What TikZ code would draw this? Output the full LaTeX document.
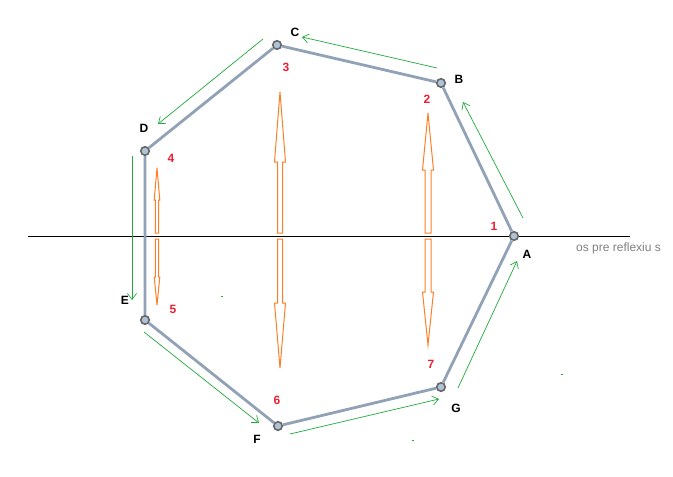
\documentclass[tikz,border=0pt]{standalone}
\usepackage{fontspec}
\setmainfont{Liberation Sans}
\usetikzlibrary{arrows.meta, positioning}

\definecolor{edgegray}{RGB}{145,162,182}
\definecolor{dotfill}{RGB}{175,195,215}
\definecolor{movegreen}{RGB}{30,170,60}
\definecolor{reflorange}{RGB}{255,127,39}
\definecolor{numred}{RGB}{235,30,50}

\tikzset{
    vertex/.style={circle, draw=black!60, fill=dotfill, line width=1.6pt, inner sep=0pt, minimum size=8.5pt},
    edge/.style={draw=edgegray, line width=2.8pt},
    move/.style={draw=movegreen, line width=0.7pt, -{Straight Barb[length=6pt, width=9pt]}},
    refl/.style={draw=reflorange, line width=1pt},
    letter/.style={font=\fontsize{12}{14}\selectfont\bfseries, text=black, inner sep=0pt},
    number/.style={font=\fontsize{12}{14}\selectfont\bfseries, text=numred, inner sep=0pt}
}

\begin{document}
\begin{tikzpicture}[x=1pt, y=-1pt]
    \useasboundingbox (0,0) rectangle (673,477);

    % Axis of reflection
    \coordinate (axisL) at (28,236);
    \coordinate (axisR) at (630,236);
    \draw[line width=1pt] (axisL) -- (axisR);
    \node[text=black!50, font=\fontsize{12}{14}\selectfont, anchor=west, inner sep=0pt] (axislabel) at (576,248) {os pre reflexiu s};

    % Reflection arrows
    \foreach \x/\tip/\head/\base/\sw/\hw in {157/168/200/233/1.7/2.8, 157/305/277/239/1.7/2.8,
                                            280/92/162/233/2.5/5.5, 280/368/303/239/2.5/5.5,
                                            428/113/170/233/3/5.5, 428/345/292/239/3/5.5}
        \draw[refl] ({\x-\sw},\base) -- ({\x-\sw},\head) -- ({\x-\hw},\head) -- (\x,\tip)
            -- ({\x+\hw},\head) -- ({\x+\sw},\head) -- ({\x+\sw},\base) -- cycle;

    % Heptagon
    \node[vertex] (A) at (514,236) {};
    \node[vertex] (B) at (441,83) {};
    \node[vertex] (C) at (277,45) {};
    \node[vertex] (D) at (145,151) {};
    \node[vertex] (E) at (145,320) {};
    \node[vertex] (F) at (278,426) {};
    \node[vertex] (G) at (441,387) {};
    \draw[edge] (A) -- (B) -- (C) -- (D) -- (E) -- (F) -- (G) -- (A);

    % Vertex letters
    \node[letter] (labA) at (527,254) {A};
    \node[letter] (labB) at (459,79) {B};
    \node[letter] (labC) at (295,32) {C};
    \node[letter] (labD) at (144,128) {D};
    \node[letter] (labE) at (125,300) {E};
    \node[letter] (labF) at (257,439) {F};
    \node[letter] (labG) at (456,408) {G};

    % Order numbers
    \node[number] (n1) at (494,226) {1};
    \node[number] (n2) at (427,99) {2};
    \node[number] (n3) at (286,67) {3};
    \node[number] (n4) at (171,158) {4};
    \node[number] (n5) at (173,309) {5};
    \node[number] (n6) at (277,400) {6};
    \node[number] (n7) at (431,364) {7};

    % Direction arrows
    \coordinate (ab1) at (523,218); \coordinate (ab2) at (463,102);
    \coordinate (bc1) at (437,68);  \coordinate (bc2) at (302,37);
    \coordinate (cd1) at (263,39);  \coordinate (cd2) at (158,124);
    \coordinate (de1) at (132,156); \coordinate (de2) at (132,300);
    \coordinate (ef1) at (144,332); \coordinate (ef2) at (259,423);
    \coordinate (fg1) at (290,434); \coordinate (fg2) at (439,399);
    \coordinate (ga1) at (458,388); \coordinate (ga2) at (517,261);
    \draw[move] (ab1) -- (ab2);
    \draw[move] (bc1) -- (bc2);
    \draw[move] (cd1) -- (cd2);
    \draw[move] (de1) -- (de2);
    \draw[move] (ef1) -- (ef2);
    \draw[move] (fg1) -- (fg2);
    \draw[move] (ga1) -- (ga2);

    % Stray marks
    \fill[movegreen] (221,295.5) rectangle (223,296.5);
    \fill[movegreen] (412,439.5) rectangle (414,440.5);
    \fill[movegreen] (561,373.5) rectangle (563,374.5);
\end{tikzpicture}
\end{document}
